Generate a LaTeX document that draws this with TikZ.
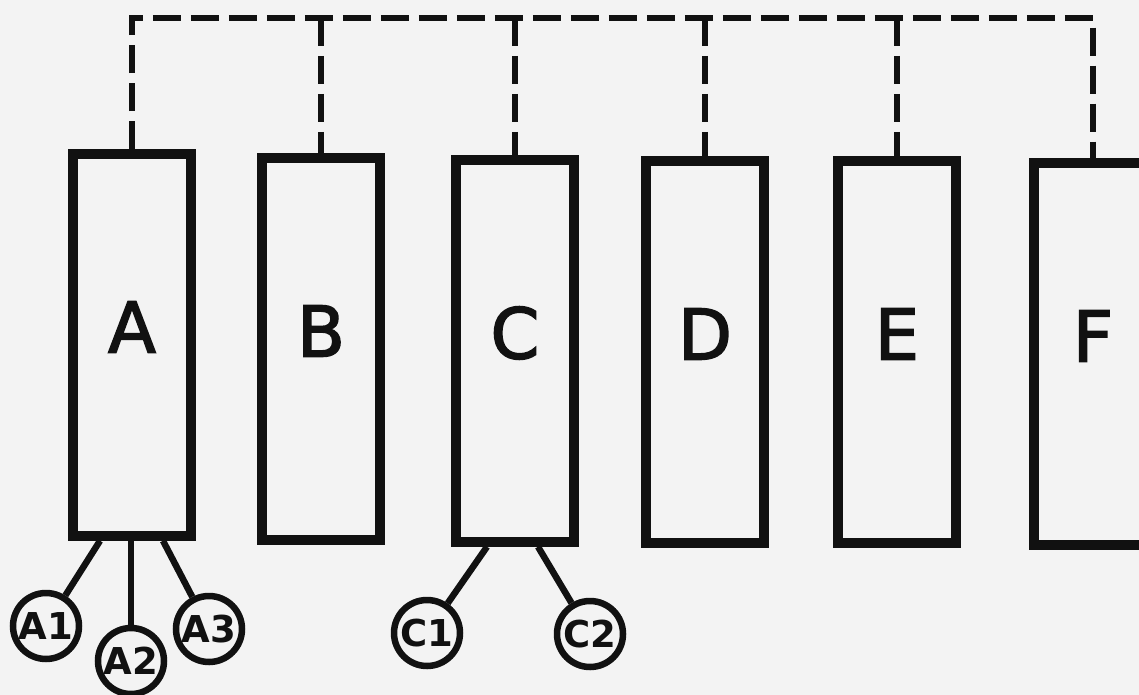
\documentclass[tikz,border=0pt]{standalone}
\usepackage{fontspec}
\setmainfont{DejaVu Sans}
\newcommand\thicktext[1]{\special{pdf:literal 2 Tr 1.6 w}#1\special{pdf:literal 0 Tr}}
\definecolor{ink}{HTML}{111111}
\definecolor{paper}{HTML}{F3F3F3}
\begin{document}
\begin{tikzpicture}[x=1pt,y=-1pt,
  box/.style={draw=ink, line width=9.5pt, minimum width=118pt, minimum height=382pt, inner sep=0pt},
  big/.style={font=\fontsize{70}{70}\selectfont, text=ink, draw=none, yshift=18pt},
  sub/.style={circle, draw=ink, line width=6.5pt, minimum size=66pt, inner sep=0pt, text=ink, font=\bfseries\fontsize{37}{37}\selectfont},
  bus/.style={draw=ink, line width=6pt, dash pattern=on 28pt off 10pt},
  leg/.style={draw=ink, line width=6.5pt}]
\useasboundingbox (0,0) rectangle (1139,695);
\clip (0,0) rectangle (1139,695);
\fill[paper] (0,0) rectangle (1139,695);
% boxes
\node[box, label={[big]center:\thicktext{A}}] (A) at (132,345) {};
\node[box, label={[big]center:\thicktext{B}}] (B) at (321,349) {};
\node[box, label={[big]center:\thicktext{C}}] (C) at (515,351) {};
\node[box, label={[big]center:\thicktext{D}}] (D) at (705,352) {};
\node[box, label={[big]center:\thicktext{E}}] (E) at (897,352) {};
\node[box, label={[big]center:\thicktext{F}}] (F) at (1093,354) {};
% bus
\coordinate (bus) at (0,18);
\draw[bus] (A.north) -- (A.north |- bus) -- (F.north |- bus) -- (F.north);
\foreach \n in {B,C,D,E} \draw[bus] (\n.north |- bus) -- (\n.north);
% sub nodes
\node[sub] (A1) at (46,626) {A1};
\node[sub] (A2) at (131,661) {A2};
\node[sub] (A3) at (209,629) {A3};
\node[sub] (C1) at (427,633) {C1};
\node[sub] (C2) at (590,634) {C2};
\draw[leg] ([xshift=-32pt]A.south) -- (A1);
\draw[leg] (A.south -| A2) -- (A2);
\draw[leg] ([xshift=31pt]A.south) -- (A3);
\draw[leg] ([xshift=-28pt]C.south) -- (C1);
\draw[leg] ([xshift=23pt]C.south) -- (C2);
\end{tikzpicture}
\end{document}
